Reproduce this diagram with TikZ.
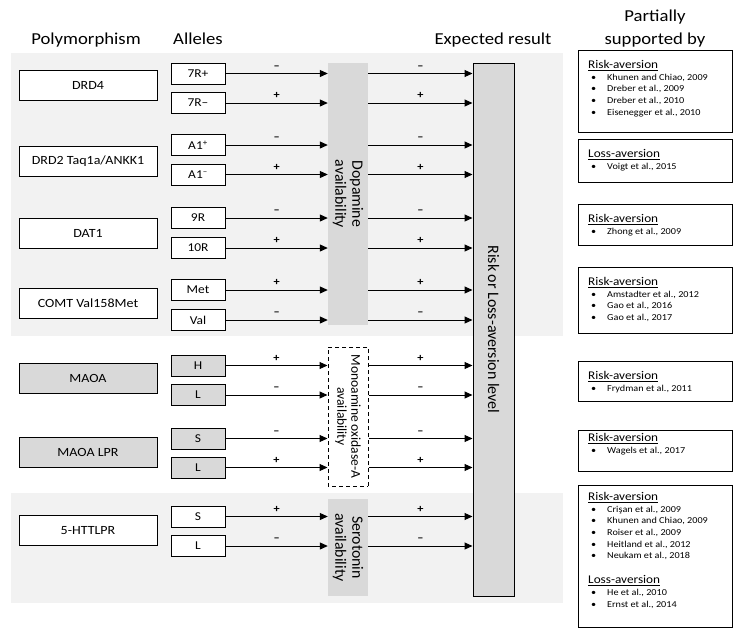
\documentclass[tikz,border=0pt]{standalone}
\usepackage{fontspec}
\setmainfont{Carlito}[FakeStretch=1.12]
\newfontfamily\rotfont{Carlito}
\usetikzlibrary{positioning,arrows.meta}
\definecolor{bandgray}{HTML}{F2F2F2}
\definecolor{boxgray}{HTML}{D9D9D9}
\newcommand{\refhead}[1]{\underline{\fontsize{11.8}{14}\selectfont #1}}
\newcommand{\refitem}[1]{\\\hspace*{3pt}\makebox[16pt][l]{\textbullet}#1}
\begin{document}
\begin{tikzpicture}[x=1pt,y=-1pt,
    heading/.style={anchor=base,inner sep=0pt,font=\fontsize{16.7}{22.5}\selectfont},
    poly/.style={draw,fill=white,line width=1pt,minimum width=138pt,minimum height=30pt,inner sep=0pt,font=\fontsize{12.5}{12.5}\selectfont},
    allele/.style={draw,fill=white,line width=1pt,minimum width=54pt,minimum height=21pt,inner sep=0pt,font=\fontsize{12}{12}\selectfont},
    medbox/.style={fill=boxgray,rotate=-90,minimum height=40pt,inner sep=0pt,align=center,font=\rotfont\fontsize{15.8}{17}\selectfont},
    riskbox/.style={draw,fill=boxgray,line width=1pt,rotate=-90,minimum width=533pt,minimum height=41pt,inner sep=0pt,font=\rotfont\fontsize{16}{17}\selectfont},
    refbox/.style={draw,line width=1pt,minimum width=154pt,inner sep=0pt},
    reftext/.style={anchor=north west,inner sep=0pt,align=left,font=\fontsize{9.1}{11.7}\selectfont},
    sgn/.style={above=4pt,inner sep=0pt,font=\fontsize{11}{11}\selectfont\bfseries}]
  \useasboundingbox (0,0) rectangle (740,638);
  \fill[bandgray] (11,53) rectangle (563,336);
  \fill[bandgray] (11,493) rectangle (563,603);
  \draw
    (86,44) node[heading] (hpoly){Polymorphism}
    (198,44) node[heading] (hall){Alleles}
    (493,44) node[heading] (hres){Expected result}
    (655,10) node[heading,anchor=north,align=center] (hsup){Partially\\supported by};
  \draw
    (88,85) node[poly] (drd4){DRD4}
    (88,161) node[poly] (drd2){DRD2 Taq1a/ANKK1}
    (88,233) node[poly] (dat1){DAT1}
    (88,303.5) node[poly] (comt){COMT Val158Met}
    (88,378.5) node[poly,fill=boxgray] (maoa){MAOA}
    (88,452) node[poly,fill=boxgray] (maoalpr){MAOA LPR}
    (88,530.5) node[poly] (htt){5-HTTLPR};
  \draw
    (198,73.5) node[allele] (a7p){7R+}
    (198,103) node[allele] (a7m){7R--}
    (198,145) node[allele] (a1p){A1\textsuperscript{+}}
    (198,174.5) node[allele] (a1m){A1\textsuperscript{--}}
    (198,218) node[allele] (r9){9R}
    (198,248) node[allele] (r10){10R}
    (198,290) node[allele] (met){Met}
    (198,320) node[allele] (val){Val}
    (198,365.5) node[allele,fill=boxgray] (mh){H}
    (198,395) node[allele,fill=boxgray] (ml){L}
    (198,438.5) node[allele,fill=boxgray] (ls){S}
    (198,467.5) node[allele,fill=boxgray] (ll){L}
    (198,516.5) node[allele] (hs){S}
    (198,546) node[allele] (hl){L};
  \node[medbox,minimum width=262pt] (dop) at (348,194) {Dopamine\\availability};
  \node[medbox,draw,dashed,dash pattern=on 4pt off 3pt,line width=1pt,fill=white,minimum width=139pt,
    font=\rotfont\fontsize{13.5}{14}\selectfont] (mao) at (348,416.5) {Monoamine oxidase-A\\availability};
  \node[medbox,minimum width=97pt] (ser) at (348,547.5) {Serotonin\\availability};
  \node[riskbox] (risk) at (493.5,329.5) {Risk or Loss-aversion level};
  \begin{scope}[line width=1pt,-{Triangle[length=8pt,width=7pt]}]
    \draw (a7p) to node[sgn]{--} (a7p -| dop.south);
    \draw (a7m) to node[sgn]{+} (a7m -| dop.south);
    \draw (a1p) to node[sgn]{--} (a1p -| dop.south);
    \draw (a1m) to node[sgn]{+} (a1m -| dop.south);
    \draw (r9) to node[sgn]{--} (r9 -| dop.south);
    \draw (r10) to node[sgn]{+} (r10 -| dop.south);
    \draw (met) to node[sgn]{+} (met -| dop.south);
    \draw (val) to node[sgn]{--} (val -| dop.south);
    \draw (mh) to node[sgn]{+} (mh -| mao.south);
    \draw (ml) to node[sgn]{--} (ml -| mao.south);
    \draw (ls) to node[sgn]{--} (ls -| mao.south);
    \draw (ll) to node[sgn]{+} (ll -| mao.south);
    \draw (hs) to node[sgn]{+} (hs -| ser.south);
    \draw (hl) to node[sgn]{--} (hl -| ser.south);
    \draw (a7p -| dop.north) to node[sgn]{--} (a7p -| risk.south);
    \draw (a7m -| dop.north) to node[sgn]{+} (a7m -| risk.south);
    \draw (a1p -| dop.north) to node[sgn]{--} (a1p -| risk.south);
    \draw (a1m -| dop.north) to node[sgn]{+} (a1m -| risk.south);
    \draw (r9 -| dop.north) to node[sgn]{--} (r9 -| risk.south);
    \draw (r10 -| dop.north) to node[sgn]{+} (r10 -| risk.south);
    \draw (met -| dop.north) to node[sgn]{+} (met -| risk.south);
    \draw (val -| dop.north) to node[sgn]{--} (val -| risk.south);
    \draw (mh -| mao.north) to node[sgn]{+} (mh -| risk.south);
    \draw (ml -| mao.north) to node[sgn]{--} (ml -| risk.south);
    \draw (ls -| mao.north) to node[sgn]{--} (ls -| risk.south);
    \draw (ll -| mao.north) to node[sgn]{+} (ll -| risk.south);
    \draw (hs -| ser.north) to node[sgn]{+} (hs -| risk.south);
    \draw (hl -| ser.north) to node[sgn]{--} (hl -| risk.south);
  \end{scope}
  \draw
    (655,91) node[refbox,minimum height=82pt] (ref1){}
    (655,160.5) node[refbox,minimum height=43pt] (ref2){}
    (655,224.5) node[refbox,minimum height=41pt] (ref3){}
    (655,300) node[refbox,minimum height=66pt] (ref4){}
    (655,381) node[refbox,minimum height=40pt] (ref5){}
    (655,450.5) node[refbox,minimum height=41pt] (ref6){}
    (655,556) node[refbox,minimum height=142pt] (ref7){};
  \node[reftext] (txt1) at (588,60) {\refhead{Risk-aversion}\refitem{Khunen and Chiao, 2009}\refitem{Dreber et al., 2009}\refitem{Dreber et al., 2010}\refitem{Eisenegger et al., 2010}};
  \node[reftext] (txt2) at (588,149) {\refhead{Loss-aversion}\refitem{Voigt et al., 2015}};
  \node[reftext] (txt3) at (588,214) {\refhead{Risk-aversion}\refitem{Zhong et al., 2009}};
  \node[reftext] (txt4) at (588,277) {\refhead{Risk-aversion}\refitem{Amstadter et al., 2012}\refitem{Gao et al., 2016}\refitem{Gao et al., 2017}};
  \node[reftext] (txt5) at (588,371) {\refhead{Risk-aversion}\refitem{Frydman et al., 2011}};
  \node[reftext] (txt6) at (588,433) {\refhead{Risk-aversion}\refitem{Wagels et al., 2017}};
  \node[reftext] (txt7) at (588,492) {\refhead{Risk-aversion}\refitem{Crişan et al., 2009}\refitem{Khunen and Chiao, 2009}\refitem{Roiser et al., 2009}\refitem{Heitland et al., 2012}\refitem{Neukam et al., 2018}\\[13pt]\refhead{Loss-aversion}\refitem{He et al., 2010}\refitem{Ernst et al., 2014}};
\end{tikzpicture}
\end{document}
